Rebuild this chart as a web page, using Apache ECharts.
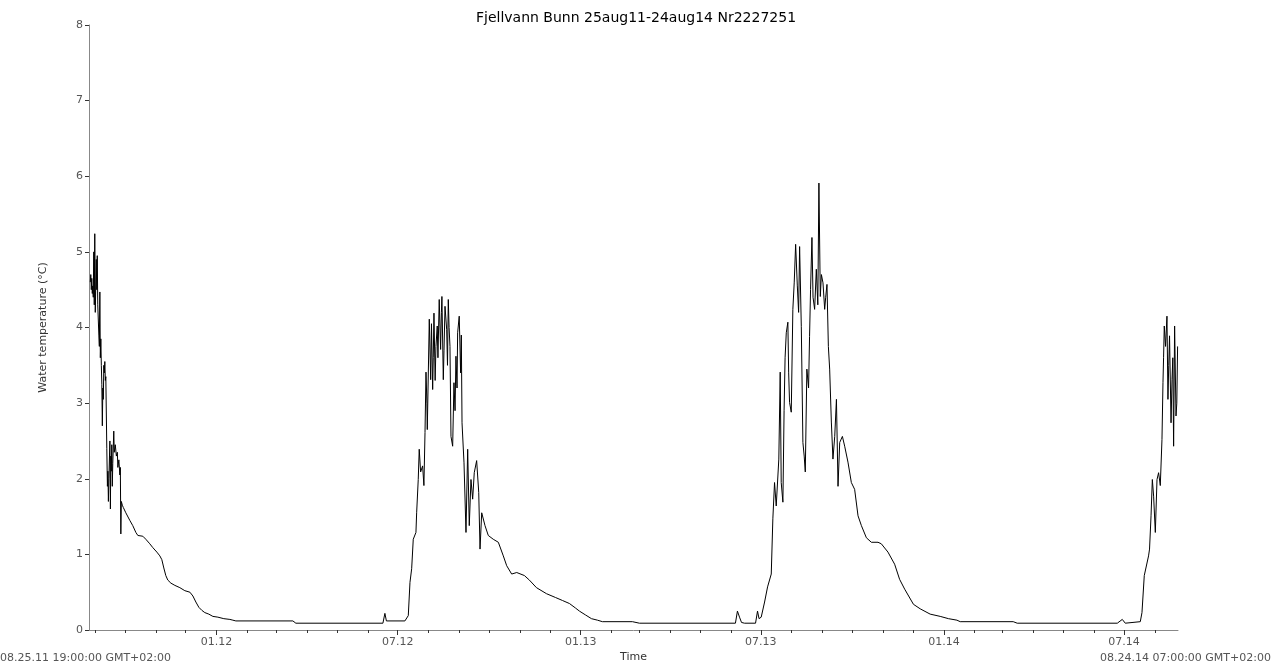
<!DOCTYPE html>
<html>
<head>
<meta charset="utf-8">
<title>Fjellvann Bunn</title>
<script src="https://cdn.jsdelivr.net/npm/echarts@6.0.0/dist/echarts.min.js"></script>
<style>
  html, body { margin: 0; padding: 0; background: #fff; }
  #chart { width: 1272px; height: 668px; }
</style>
</head>
<body>
<div id="chart"></div>
<script>
// logger start / end (clock time as printed, GMT+02:00)
var startTime = Date.UTC(2011, 7, 25, 19, 0, 0);
var endTime = Date.UTC(2014, 7, 24, 7, 0, 0);

// days since logger start
var dayOffsets = [
  1.3, 1.8, 2.3, 2.8, 3.3, 3.8, 4.3, 4.8, 5.3, 5.8, 6.3, 7.3, 7.8, 8.3, 8.8,
  9.9, 10.4, 10.9, 11.4, 11.9, 12.4, 12.9, 13.4, 13.9, 14.4, 14.9, 15.4, 15.9, 16.4, 16.9,
  17.9, 18.5, 19.0, 19.5, 20.0, 21.0, 21.5, 21.9, 22.4, 22.9, 23.4, 23.9, 24.9, 25.4, 26.4,
  27.5, 28.5, 29.0, 30.0, 31.0, 31.5, 32.0, 32.5, 33.5, 34.5,
  37.0, 41.0, 44.0, 47.1, 49.1, 51.1, 54.1, 57.1, 61.1, 64.1, 68.2, 71.2, 73.2, 75.2, 77.2,
  79.2, 82.3, 86.3, 91.3, 96.3, 101.4, 104.4, 107.4, 110.4, 113.4, 116.4, 120.4, 124.5, 129.5,
  135.5, 141.6, 144.6, 147.6, 204.9, 207.9, 295.4, 297.4, 298.9, 300.4, 317.5,
  320.9, 322.6, 324.3, 325.9, 328.6, 329.3, 330.9, 331.9, 333.3, 335.3, 336.6, 337.7, 338.7,
  340.0, 342.0, 343.4, 345.4, 346.7, 348.7, 350.0, 352.0, 353.4, 354.7, 356.1, 357.8, 359.5,
  361.1, 362.8, 363.8, 365.5, 366.8, 368.8, 370.5, 372.1, 373.5, 374.9, 376.9, 378.9, 380.6,
  382.2, 383.9, 385.6, 387.2, 389.6, 391.7, 393.0, 394.7, 398.0, 401.3, 406.3, 411.4, 416.4,
  419.8, 424.8, 429.9, 437.6, 442.6, 449.7, 459.8, 468.8, 475.9, 482.9, 489.0, 492.9, 498.9,
  505.0, 511.0, 516.0, 546.2, 553.2, 649.7, 651.7, 653.8, 655.8, 658.8, 669.9, 671.9, 673.4,
  675.6, 679.0, 682.0, 685.7, 687.3, 689.0, 690.7, 693.3, 694.7, 695.7, 697.4, 700.8, 702.4,
  704.1, 705.8, 707.4, 710.2, 711.9, 714.2, 715.9, 717.5, 719.9, 721.5, 724.2, 726.6, 729.3,
  731.0, 733.6, 735.0, 737.7, 739.4, 741.7, 743.1, 744.4, 746.1, 747.7, 749.5, 751.2, 752.8,
  754.5, 757.2, 759.5, 762.8, 766.2, 769.5, 772.9, 776.3, 781.3, 786.3, 793.0, 796.3, 803.0,
  809.7, 814.7, 819.8, 828.6, 835.4, 845.4, 855.5, 863.8, 872.3, 875.6, 928.9, 932.9,
  1033.5, 1038.5, 1041.5, 1056.6, 1058.3, 1060.6, 1062.6, 1064.9, 1065.9, 1067.4, 1068.7,
  1070.0, 1071.7, 1073.4, 1075.0, 1076.7, 1078.4, 1079.4, 1080.7, 1082.0, 1083.4, 1084.4,
  1086.0, 1087.5, 1088.5, 1090.1, 1091.1, 1092.5, 1094.1
];

// water temperature, degC
var tempC = [
  4.6, 4.7, 4.5, 4.65, 4.45, 4.55, 4.4, 5.0, 4.3, 5.24, 4.2, 4.9, 4.5, 4.95, 4.3,
  3.9, 3.75, 4.47, 3.6, 3.85, 3.5, 3.25, 2.7, 3.2, 3.05, 3.5, 3.4, 3.55, 3.3, 3.35,
  2.4, 1.9, 2.1, 1.7, 2.0, 2.5, 1.6, 2.3, 2.1, 2.45, 1.9, 2.2, 2.63, 2.35, 2.45,
  2.3, 2.35, 2.15, 2.25, 2.05, 2.15, 1.27, 1.7, 1.65, 1.62,
  1.55, 1.45, 1.38, 1.29, 1.25, 1.25, 1.24, 1.2, 1.14, 1.09, 1.03, 0.98, 0.93, 0.82, 0.72,
  0.66, 0.62, 0.59, 0.56, 0.52, 0.50, 0.45, 0.37, 0.30, 0.26, 0.23, 0.21, 0.18, 0.17,
  0.15, 0.14, 0.13, 0.12, 0.12, 0.09, 0.09, 0.22, 0.12, 0.11, 0.12,
  0.19, 0.63, 0.81, 1.20, 1.29, 1.55, 1.99, 2.39, 2.09, 2.17, 1.91, 2.61, 3.41,
  2.65, 4.11, 3.31, 3.18, 4.19, 3.75, 4.02, 4.37, 3.71, 4.41, 3.31, 4.28, 3.97,
  4.37, 3.75, 2.56, 2.43, 3.27, 3.62, 3.93, 4.15, 3.40, 2.74, 2.21, 1.29, 2.39,
  1.38, 1.99, 1.73, 2.08, 2.24, 1.82, 1.07, 1.55, 1.38, 1.25, 1.20, 1.16, 0.98,
  0.85, 0.74, 0.76, 0.72, 0.66, 0.56, 0.48, 0.43, 0.39, 0.35, 0.29, 0.25, 0.20,
  0.15, 0.13, 0.11, 0.11, 0.09, 0.09, 0.25, 0.17, 0.10, 0.09, 0.09, 0.25, 0.15,
  0.17, 0.37, 0.57, 0.74, 1.47, 1.95, 1.64, 2.26, 3.41, 1.95, 1.69, 3.93, 4.07,
  3.01, 2.88, 4.24, 5.10, 4.55, 5.07, 4.01, 2.48, 2.09, 3.45, 3.88, 5.19, 4.24,
  4.77, 5.91, 4.41, 4.59, 4.24, 4.57, 3.75, 3.45, 2.75, 2.26, 2.56, 3.05, 1.90,
  2.48, 2.56, 2.43, 2.22, 1.95, 1.86, 1.51, 1.38, 1.22, 1.16, 1.16, 1.14, 1.03,
  0.87, 0.67, 0.54, 0.34, 0.28, 0.21, 0.18, 0.15, 0.13, 0.11, 0.11, 0.09,
  0.09, 0.14, 0.09, 0.11, 0.23, 0.72, 0.74, 0.98, 1.07, 1.51, 1.99,
  1.77, 1.29, 1.99, 2.08, 1.91, 2.52, 3.27, 4.02, 3.75, 4.15, 3.05,
  3.89, 2.74, 3.31, 2.43, 4.02, 2.83, 3.75
];

// extra readings inside the noisy summer bands
var extraDays = [
  339.6, 344.2, 346.0, 347.9, 350.7, 354.2, 356.8, 360.3, 361.9, 367.9, 369.9, 374.2,
  698.6, 699.6, 703.2, 708.8, 713.2, 718.8, 723.2, 725.2, 727.7, 732.5, 736.1, 740.4,
  1080.0, 1085.2, 1089.3, 1093.3
];
var extraTemps = [
  3.0, 4.05, 3.6, 3.3, 3.6, 4.2, 3.7, 3.5, 4.0, 2.9, 3.2, 3.9,
  2.9, 3.6, 3.4, 4.6, 4.2, 2.3, 3.2, 4.5, 4.4, 4.3, 4.7, 4.4,
  3.6, 3.5, 3.6, 3.0
];

// labelled ticks on the time axis (MM.YY)
var tickLabels = ['01.12', '07.12', '01.13', '07.13', '01.14', '07.14'];

var DAY = 86400000;
var spanDays = (endTime - startTime) / DAY;

function toDays(t) { return (t - startTime) / DAY; }

var seriesData = dayOffsets.map(function (d, i) { return [d, tempC[i]]; })
  .concat(extraDays.map(function (d, i) { return [d, extraTemps[i]]; }))
  .sort(function (a, b) { return a[0] - b[0]; });

var labelDays = tickLabels.map(function (s) {
  var mm = parseInt(s.slice(0, 2), 10);
  var yy = parseInt(s.slice(3), 10);
  return toDays(Date.UTC(2000 + yy, mm - 1, 1));
});

// one small tick per month start
var monthDays = [];
for (var y = 2011; y <= 2014; y++) {
  for (var m = 0; m < 12; m++) {
    var t = Date.UTC(y, m, 1);
    if (t > startTime && t < endTime) monthDays.push(toDays(t));
  }
}

function fmtTick(val) {
  var d = new Date(startTime + val * DAY + 3600000);
  var mm = d.getUTCMonth() + 1;
  var yy = d.getUTCFullYear() % 100;
  return (mm < 10 ? '0' : '') + mm + '.' + (yy < 10 ? '0' : '') + yy;
}

var font = 'DejaVu Sans, Verdana, sans-serif';
var myChart = echarts.init(document.getElementById('chart'));

var option = {
  backgroundColor: '#fff',
  animation: false,
  title: {
    text: 'Fjellvann Bunn 25aug11-24aug14 Nr2227251',
    left: 'center',
    top: 6,
    textStyle: { fontFamily: font, fontSize: 14, fontWeight: 'normal', color: '#000' }
  },
  grid: { left: 89, right: 94, top: 25, bottom: 37, containLabel: false },
  xAxis: [
    {
      type: 'value',
      min: 0,
      max: spanDays,
      name: 'Time',
      nameLocation: 'middle',
      nameGap: 22,
      nameTextStyle: { fontFamily: font, fontSize: 11, color: '#333' },
      axisLine: { show: true, lineStyle: { color: '#888', width: 1 } },
      axisTick: { show: true, length: 3, customValues: monthDays, lineStyle: { color: '#333' } },
      axisLabel: { show: true, customValues: monthDays, formatter: function () { return ''; } },
      splitLine: { show: false }
    },
    {
      type: 'value',
      min: 0,
      max: spanDays,
      position: 'bottom',
      axisLine: { show: false },
      axisTick: { show: true, length: 5, customValues: labelDays, lineStyle: { color: '#333' } },
      axisLabel: {
        show: true,
        customValues: labelDays,
        formatter: fmtTick,
        margin: 7,
        fontFamily: font,
        fontSize: 11,
        color: '#555'
      },
      splitLine: { show: false }
    }
  ],
  yAxis: {
    type: 'value',
    min: 0,
    max: 8,
    interval: 1,
    name: 'Water temperature (\u00B0C)',
    nameLocation: 'middle',
    nameGap: 40,
    nameTextStyle: { fontFamily: font, fontSize: 11, color: '#333' },
    axisLine: { show: true, lineStyle: { color: '#888', width: 1 } },
    axisTick: { show: true, length: 4, lineStyle: { color: '#333' } },
    axisLabel: {
      margin: 6,
      fontFamily: font,
      fontSize: 11,
      color: '#555'
    },
    splitLine: { show: false }
  },
  graphic: [
    {
      type: 'text',
      left: 0,
      top: 653,
      style: { text: '08.25.11 19:00:00 GMT+02:00', fontFamily: font, fontSize: 11, fill: '#555' }
    },
    {
      type: 'text',
      right: 1,
      top: 653,
      style: { text: '08.24.14 07:00:00 GMT+02:00', fontFamily: font, fontSize: 11, fill: '#555' }
    }
  ],
  series: [
    {
      name: 'Water temperature',
      type: 'line',
      xAxisIndex: 0,
      data: seriesData,
      showSymbol: false,
      symbol: 'none',
      lineStyle: { color: '#000', width: 1 },
      emphasis: { disabled: true }
    }
  ]
};

myChart.setOption(option);
</script>
</body>
</html>
